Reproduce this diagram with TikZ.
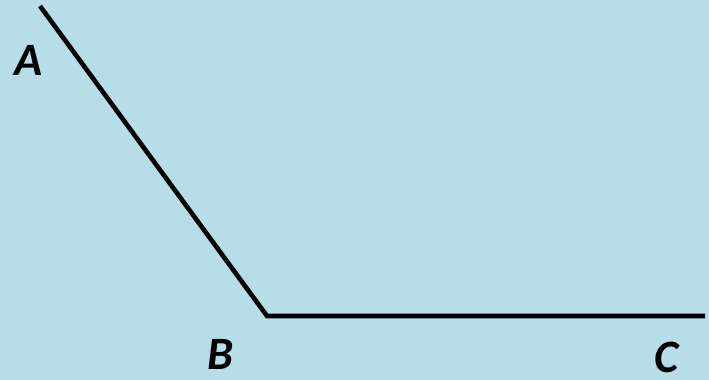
\documentclass[tikz,border=0pt]{standalone}
\usepackage{fontspec}
\setmainfont{Carlito}
\definecolor{skyback}{HTML}{B7DEE8}
\tikzset{
  anglelabel/.style={font=\fontsize{66}{66}\selectfont\bfseries\itshape, inner sep=0pt, text depth=0pt},
  armline/.style={line width=0.23cm, line join=miter}
}
\begin{document}
\begin{tikzpicture}[x=0.05cm,y=-0.05cm]
\fill[skyback] (0,0) rectangle (709,380);
\useasboundingbox (0,0) rectangle (709,380);
\coordinate (a) at (40,6);
\coordinate (b) at (267,316);
\coordinate (c) at (705,316);
\draw[armline] (a) -- (b) -- (c);
\node[anglelabel] (labA) at (29,60) {A};
\node[anglelabel] (labB) at (220,354) {B};
\node[anglelabel] (labC) at (667,357) {C};
\end{tikzpicture}
\end{document}
